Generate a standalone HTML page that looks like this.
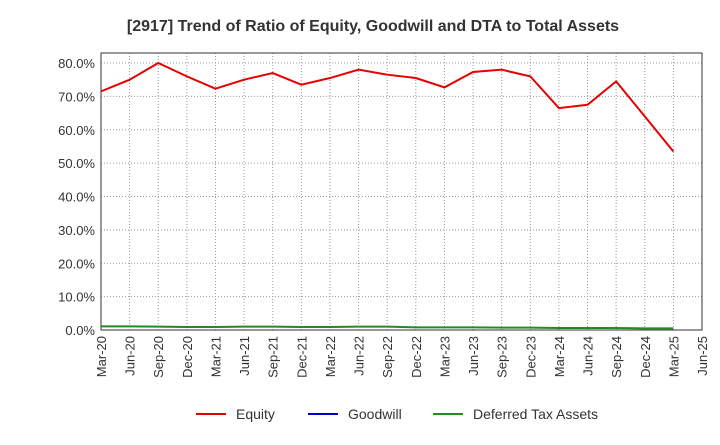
<!DOCTYPE html>
<html><head><meta charset="utf-8"><style>
body{margin:0;background:#fff;font-family:"Liberation Sans",Arial,sans-serif;}
svg text{font-family:"Liberation Sans",Arial,sans-serif;}
</style></head><body>
<svg id="chart" width="720" height="440" viewBox="0 0 720 440">
<text x="373" y="31" text-anchor="middle" font-size="16" font-weight="bold" fill="#333">[2917]  Trend of Ratio of Equity, Goodwill and DTA to Total Assets</text>
<g id="grid"></g><g id="axes"></g><g id="series"></g>
<g>
<line x1="196" y1="414" x2="226" y2="414" stroke="#e60000" stroke-width="2"/><text x="236" y="419" font-size="14" fill="#333">Equity</text>
<line x1="308" y1="414" x2="338" y2="414" stroke="#0000cc" stroke-width="2"/><text x="348" y="419" font-size="14" fill="#333">Goodwill</text>
<line x1="433" y1="414" x2="463" y2="414" stroke="#228b22" stroke-width="2"/><text x="473" y="419" font-size="14" fill="#333">Deferred Tax Assets</text>
</g>
</svg>
<script>
const categories=["Mar-20","Jun-20","Sep-20","Dec-20","Mar-21","Jun-21","Sep-21","Dec-21","Mar-22","Jun-22","Sep-22","Dec-22","Mar-23","Jun-23","Sep-23","Dec-23","Mar-24","Jun-24","Sep-24","Dec-24","Mar-25","Jun-25"];
const equity=[71.5,75,80,76,72.3,75,77,73.5,75.5,78,76.5,75.5,72.7,77.3,78,76,66.5,67.5,74.5,64,53.5];
const goodwill=[];
const dta=[1.1,1.1,1.0,0.9,0.9,1.0,1.0,0.9,0.9,1.0,1.0,0.8,0.8,0.8,0.7,0.7,0.6,0.6,0.6,0.5,0.5];
const yTicks=[0,10,20,30,40,50,60,70,80];
const L=101,R=702,T=53,B=330,yMax=83;
const X=i=>L+i*(R-L)/(categories.length-1);
const Y=v=>B-v*(B-T)/yMax;
const NS="http://www.w3.org/2000/svg";
function mk(p,t,a){const e=document.createElementNS(NS,t);for(const k in a)e.setAttribute(k,a[k]);document.getElementById(p).appendChild(e);return e;}
categories.forEach((c,i)=>{
 const g=mk("grid","line",{x1:X(i),x2:X(i),y1:T,y2:B,stroke:"#999","stroke-dasharray":"1,2","stroke-width":1});
 
 
 const t=mk("axes","text",{x:0,y:0,"font-size":13,fill:"#333","text-anchor":"end",transform:`translate(${X(i)+5},${B+6}) rotate(-90)`});
 t.textContent=c;
 
 
});
yTicks.forEach(v=>{
 const g=mk("grid","line",{x1:L,x2:R,y1:Y(v),y2:Y(v),stroke:"#999","stroke-dasharray":"1,2","stroke-width":1});
 
 
 const t=mk("axes","text",{x:L-6,y:Y(v)+5,"font-size":13,fill:"#333","text-anchor":"end"});
 t.textContent=v.toFixed(1)+"%";
 
 
});
const fr=mk("axes","rect",{x:L,y:T,width:R-L,height:B-T,fill:"none",stroke:"#333","stroke-width":1});


function line(d,col,name){
 if(!d.length)return;
 const p=mk("series","polyline",{points:d.map((v,i)=>X(i)+","+Y(v)).join(" "),fill:"none",stroke:col,"stroke-width":2});
 
 
}
line(dta,"#228b22","dta-line");
line(goodwill,"#0000cc","goodwill-line");
line(equity,"#e60000","equity-line");
</script>
</body></html>
